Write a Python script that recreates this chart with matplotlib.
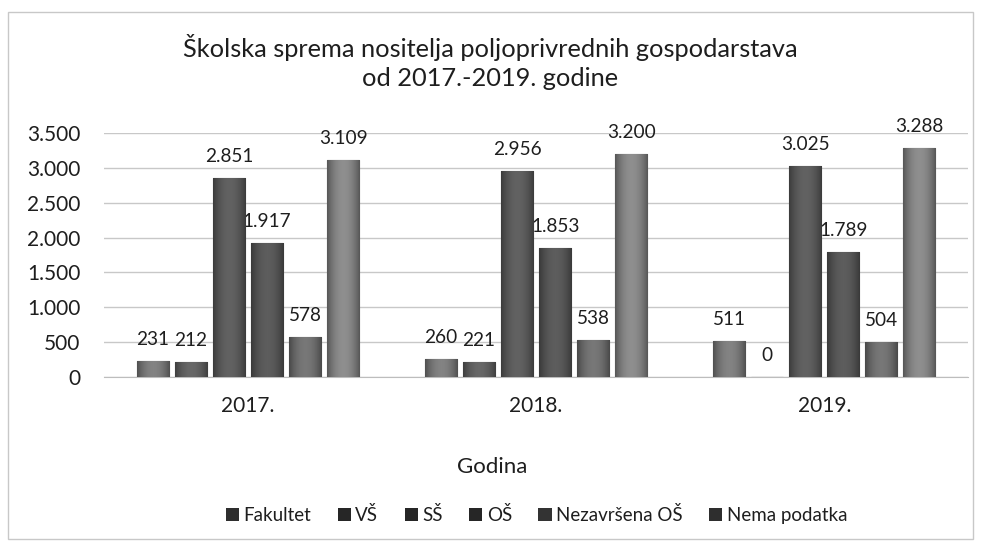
import matplotlib.pyplot as plt
import numpy as np
from matplotlib.colors import to_rgb
from matplotlib.patches import Rectangle
from matplotlib.ticker import FuncFormatter

plt.rcParams["font.family"] = ["Lato", "DejaVu Sans"]

years = ["2017.", "2018.", "2019."]
series = ["Fakultet", "VŠ", "SŠ", "OŠ", "Nezavršena OŠ", "Nema podatka"]
fakultet = [231, 260, 511]
vs = [212, 221, 0]
ss = [2851, 2956, 3025]
os_ = [1917, 1853, 1789]
nezavrsena = [578, 538, 504]
nema = [3109, 3200, 3288]
values = [fakultet, vs, ss, os_, nezavrsena, nema]

colors = ["#727272", "#5a5a5a", "#555555", "#515151", "#686868", "#7c7c7c"]
legend_colors = ["#2e2e2e", "#262626", "#262626", "#262626", "#333333", "#2e2e2e"]
text_color = "#1e1e1e"

fig = plt.figure(figsize=(9.81, 5.46), dpi=100)
ax = fig.add_axes([0.106, 0.3095, 0.881, 0.4469])

# horizontal shading profile for the bevelled bars
prof = np.linspace(-1, 1, 64)
shade = 1.15 - 0.45 * prof ** 2

x = np.arange(len(years))
step = 0.132
width = 0.112
for i, (name, vals) in enumerate(zip(series, values)):
    pos = x + (i - 2.5) * step
    bars = ax.bar(pos, vals, width, color=colors[i], edgecolor="#3a3a3a",
                  linewidth=0.8, label=name, zorder=3)
    base = np.array(to_rgb(colors[i]))
    grad = np.clip(shade[None, :, None] * base[None, None, :], 0, 1)
    for b, v in zip(bars, vals):
        if v > 0:
            im = ax.imshow(grad, extent=(b.get_x(), b.get_x() + b.get_width(), 0, v),
                           aspect="auto", zorder=3.5, interpolation="bilinear")
            im.set_clip_path(b)
        label = f"{v:,}".replace(",", ".")
        ax.annotate(label, (b.get_x() + b.get_width() / 2, v),
                    xytext=(0, 11.5), textcoords="offset points",
                    ha="center", va="baseline", fontsize=13.7, color=text_color)

ax.set_xlim(-0.5, 2.5)
ax.set_ylim(0, 3500)
ax.set_yticks(np.arange(0, 3501, 500))
ax.yaxis.set_major_formatter(FuncFormatter(lambda v, p: f"{int(v):,}".replace(",", ".")))
ax.set_xticks(x)
ax.set_xticklabels(years)
ax.tick_params(axis="both", length=0, labelsize=15, colors=text_color)
ax.tick_params(axis="x", pad=14)
ax.tick_params(axis="y", pad=17)
ax.grid(axis="y", color="#c8c8c8", linewidth=1, zorder=0)
for s in ["top", "right", "left"]:
    ax.spines[s].set_visible(False)
ax.spines["bottom"].set_color("#bdbdbd")

fig.text(0.5, 0.887, "Školska sprema nositelja poljoprivrednih gospodarstava\nod 2017.-2019. godine",
         ha="center", va="center", fontsize=18.3, color=text_color, linespacing=1.3)
fig.text(0.502, 0.145, "Godina", ha="center", va="center", fontsize=16, color=text_color)

handles = [Rectangle((0, 0), 1, 1, facecolor=c, edgecolor="none") for c in legend_colors]
fig.legend(handles, series, loc="center", bbox_to_anchor=(0.547, 0.057), ncol=6,
           frameon=False, fontsize=13.5, handlelength=0.7, handleheight=0.7,
           handletextpad=0.25, columnspacing=1.4, labelcolor=text_color)

fig.patches.append(Rectangle((0.008, 0.012), 0.984, 0.966, transform=fig.transFigure,
                             fill=False, edgecolor="#c8c8c8", linewidth=1))

fig.savefig("out.png", dpi=100)
